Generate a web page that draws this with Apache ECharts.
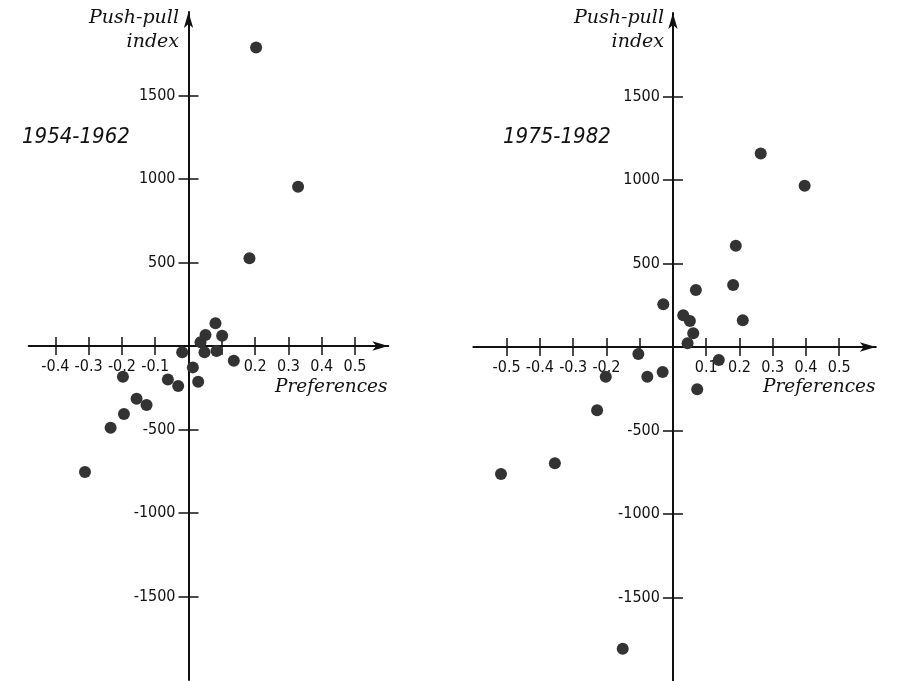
<!DOCTYPE html>
<html><head><meta charset="utf-8">
<script src="https://cdn.jsdelivr.net/npm/echarts@6/dist/echarts.min.js"></script>
<style>html,body{margin:0;padding:0;background:#fff}#c{width:897px;height:681px}</style>
</head><body><div id="c"></div>
<script>
// Data
const leftX = [0.203, 0.329, 0.183, 0.081, 0.051, 0.101, 0.036, 0.048, 0.084, -0.019, 0.136, 0.013, 0.029, -0.062, -0.031, -0.197, -0.156, -0.126, -0.194, -0.234, -0.311];
const leftY = [1787, 954, 525, 136, 66, 62, 22, -38, -30, -38, -88, -128, -214, -200, -240, -184, -316, -353, -407, -489, -755];
const rightX = [0.264, 0.396, 0.189, 0.181, 0.069, -0.029, 0.031, 0.051, 0.210, 0.061, 0.044, -0.104, 0.138, -0.077, -0.031, -0.202, 0.073, -0.228, -0.355, -0.517, -0.151];
const rightY = [1159, 965, 606, 371, 341, 256, 190, 156, 160, 82, 22, -42, -78, -178, -150, -178, -253, -379, -696, -760, -1807];
const yTicks = [-1500, -1000, -500, 500, 1000, 1500];
const leftXTicks = [-0.4, -0.3, -0.2, -0.1, 0.1, 0.2, 0.3, 0.4, 0.5];
const leftXLabels = [-0.4, -0.3, -0.2, -0.1, 0.2, 0.3, 0.4, 0.5];
const rightXTicks = [-0.5, -0.4, -0.3, -0.2, -0.1, 0.1, 0.2, 0.3, 0.4, 0.5];
const rightXLabels = [-0.5, -0.4, -0.3, -0.2, 0.1, 0.2, 0.3, 0.4, 0.5];
const periods = ['1954-1962', '1975-1982'];
const yName = ['Push-pull', 'index'];
const xName = 'Preferences';

const INK = '#111';
const tickFont = {fontFamily: '"Liberation Sans Narrow", "DejaVu Sans Condensed", sans-serif', fontSize: 16, color: INK};
const scriptFontY = 'italic 19px "DejaVu Serif"';
const scriptFontX = 'italic 18.5px "DejaVu Serif"';

const grids = [
  {left: 28.7, top: 12, width: 359.6, height: 668, xMin: -0.48, xMax: 0.6},
  {left: 473.4, top: 13, width: 402.4, height: 668, xMin: -0.6, xMax: 0.61}
];
const yMin = -2000, yMax = 2000;

function zip(a, b) { return a.map((v, i) => [v, b[i]]); }
function xFmt(v) { return (Math.round(v * 10) / 10).toFixed(1); }
function yFmt(v) { return String(Math.round(v)); }

// offsets that place the axes through the origin (labels then follow too)
function xOffset(g) { return -(g.height * (0 - yMin) / (yMax - yMin)); }
function yOffset(g) { return -(g.width * (0 - g.xMin) / (g.xMax - g.xMin)); }

function xAxes(i, ticks, labels) {
  const g = grids[i], off = xOffset(g);
  return [
    {type: 'value', gridIndex: i, min: g.xMin, max: g.xMax, position: 'bottom', offset: off,
     axisLine: {show: true, onZero: false, symbol: ['none', 'arrow'], symbolSize: [7, 16], lineStyle: {color: INK, width: 2}},
     axisTick: {show: true, length: 9, customValues: ticks, lineStyle: {color: INK, width: 1.5}},
     axisLabel: {show: true, margin: 13, customValues: labels, formatter: xFmt, ...tickFont},
     splitLine: {show: false}},
    {type: 'value', gridIndex: i, min: g.xMin, max: g.xMax, position: 'bottom', offset: off,
     axisLine: {show: false, onZero: false},
     axisTick: {show: true, inside: true, length: 9, customValues: ticks, lineStyle: {color: INK, width: 1.5}},
     axisLabel: {show: false}, splitLine: {show: false}}
  ];
}
function yAxes(i) {
  const g = grids[i], off = yOffset(g);
  return [
    {type: 'value', gridIndex: i, min: yMin, max: yMax, position: 'left', offset: off,
     axisLine: {show: true, onZero: false, symbol: ['none', 'arrow'], symbolSize: [7, 16], lineStyle: {color: INK, width: 2}},
     axisTick: {show: true, length: 10, customValues: yTicks, lineStyle: {color: INK, width: 1.5}},
     axisLabel: {show: true, margin: 13, customValues: yTicks, formatter: yFmt, ...tickFont},
     splitLine: {show: false}},
    {type: 'value', gridIndex: i, min: yMin, max: yMax, position: 'left', offset: off,
     axisLine: {show: false, onZero: false},
     axisTick: {show: true, inside: true, length: 10, customValues: yTicks, lineStyle: {color: INK, width: 1.5}},
     axisLabel: {show: false}, splitLine: {show: false}}
  ];
}

const chart = echarts.init(document.getElementById('c'), null, {renderer: 'canvas'});
chart.setOption({
  backgroundColor: '#fff',
  animation: false,
  grid: grids.map(g => ({left: g.left, top: g.top, width: g.width, height: g.height, outerBoundsMode: 'none', containLabel: false})),
  xAxis: [...xAxes(0, leftXTicks, leftXLabels), ...xAxes(1, rightXTicks, rightXLabels)],
  yAxis: [...yAxes(0), ...yAxes(1)],
  series: [
    {type: 'scatter', xAxisIndex: 0, yAxisIndex: 0, data: zip(leftX, leftY), symbolSize: 12,
     itemStyle: {color: '#333', opacity: 1}},
    {type: 'scatter', xAxisIndex: 2, yAxisIndex: 2, data: zip(rightX, rightY), symbolSize: 12,
     itemStyle: {color: '#333', opacity: 1}}
  ],
  graphic: [
    {type: 'text', style: {text: periods[0], x: 22, y: 126, font: 'italic 22px "DejaVu Sans Condensed"', fill: INK}},
    {type: 'text', style: {text: periods[1], x: 503, y: 126, font: 'italic 22px "DejaVu Sans Condensed"', fill: INK}},
    {type: 'text', style: {text: yName.join('\n'), x: 179, y: 6, textAlign: 'right', font: scriptFontY, lineHeight: 24, fill: INK}},
    {type: 'text', style: {text: yName.join('\n'), x: 664, y: 6, textAlign: 'right', font: scriptFontY, lineHeight: 24, fill: INK}},
    {type: 'text', style: {text: xName, x: 275, y: 378, font: scriptFontX, fill: INK}},
    {type: 'text', style: {text: xName, x: 763, y: 378, font: scriptFontX, fill: INK}}
  ]
});
</script></body></html>
